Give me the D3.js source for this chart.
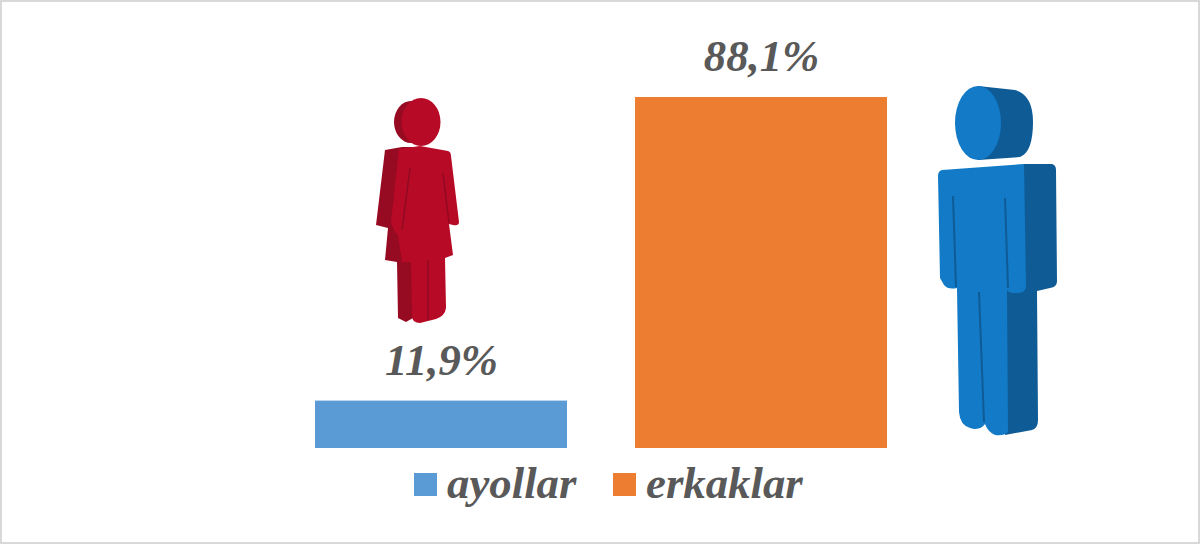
<!DOCTYPE html>
<html><head><meta charset="utf-8">
<script src="https://cdn.jsdelivr.net/npm/d3@7"></script>
<style>html,body{margin:0;background:#fff}svg{display:block}text{font-family:"Liberation Serif",serif;font-style:italic;font-weight:bold;fill:#595959}</style>
</head><body><svg id="c" width="1200" height="544"></svg>
<script>
const categories = ["ayollar","erkaklar"];
const values = [11.9,88.1];
const valueLabels = ["11,9%","88,1%"];
const colors = ["#5b9bd5","#ed7d31"];
const svg = d3.select("#c");
svg.append("rect").attr("x",1).attr("y",1).attr("width",1198).attr("height",542).attr("fill","#fff").attr("stroke","#d9d9d9").attr("stroke-width",2);
const x = d3.scaleBand().domain(categories).range([283,919]).paddingInner(0.2125).paddingOuter(0.1);
const y = d3.scaleLinear().domain([0,88.1]).range([448,97]);
svg.selectAll("rect.bar").data(categories).join("rect").attr("class","bar")
 .attr("x",d=>x(d)).attr("width",x.bandwidth())
 .attr("y",(d,i)=>y(values[i])).attr("height",(d,i)=>y(0)-y(values[i]))
 .attr("fill",(d,i)=>colors[i]);
svg.selectAll("text.val").data(categories).join("text").attr("class","val")
 .attr("x",d=>x(d)+x.bandwidth()/2+0.5).attr("y",(d,i)=>y(values[i])-26)
 .attr("text-anchor","middle").attr("font-size",44.7).text((d,i)=>valueLabels[i]);
const legX=[414,613], legT=[447,646];
categories.forEach((c,i)=>{
 svg.append("rect").attr("x",legX[i]).attr("y",473).attr("width",23).attr("height",23).attr("fill",colors[i]);
 svg.append("text").attr("x",legT[i]).attr("y",498).attr("font-size",44.8).text(c);
});
// woman pictogram
const w = svg.append("g");
w.append("ellipse").attr("cx",411).attr("cy",122).attr("rx",17).attr("ry",21).attr("fill","#960a22");
w.append("ellipse").attr("cx",421).attr("cy",122).attr("rx",19.5).attr("ry",24).attr("fill","#b70a26");
w.append("path").attr("fill","#960a22").attr("d","M385 150 L402 147 L412 147 L413 318 L406 322 L398 318 L397 262 L385 260 L388 228 L376 225 Z");
w.append("path").attr("fill","#b70a26").attr("d","M399 149 L420 146 L448 151 Q451 152 451 156 L459 222 Q459 226 453 225 L449 224 L453 255 L445 258 L446 308 Q445 316 436 319 L420 323 Q412 323 412 316 L411 262 L402 262 L398 235 Q392 228 391 222 Z");
w.append("path").attr("stroke","#8e0a20").attr("stroke-width",1.4).attr("fill","none").attr("d","M410 168 L402 230 M443 173 L449 223 M428 260 L428 320");
// man pictogram
const m = svg.append("g");
m.append("path").attr("fill","#0f5b96").attr("d","M978 86 L1015 90 Q1033 95 1033 122 Q1033 152 1020 157 L978 160 Z");
m.append("ellipse").attr("cx",978).attr("cy",123).attr("rx",23).attr("ry",37).attr("fill","#127ac6");
m.append("path").attr("fill","#0f5b96").attr("d","M1023 164 L1052 164 Q1056 165 1056 170 L1057 281 Q1057 287 1050 288 L1037 291 L1038 420 Q1038 428 1032 430 L1005 435 L1005 290 L1023 290 Z");
m.append("path").attr("fill","#127ac6").attr("d","M942 170 L1024 164 L1026 285 Q1026 293 1018 293 L1012 293 Q1007 292 1006 288 L1007 290 L1008 432 Q1004 436 995 435 Q988 432 985 424 Q980 431 970 428 Q960 425 959 412 L957 288 Q948 290 944 285 L940 278 L938 176 Q938 171 942 170 Z");
m.append("path").attr("stroke","#0f5b96").attr("stroke-width",2).attr("fill","none").attr("d","M953 196 L956 287 M1005 198 L1008 288 M979 292 L984 422");
</script></body></html>
